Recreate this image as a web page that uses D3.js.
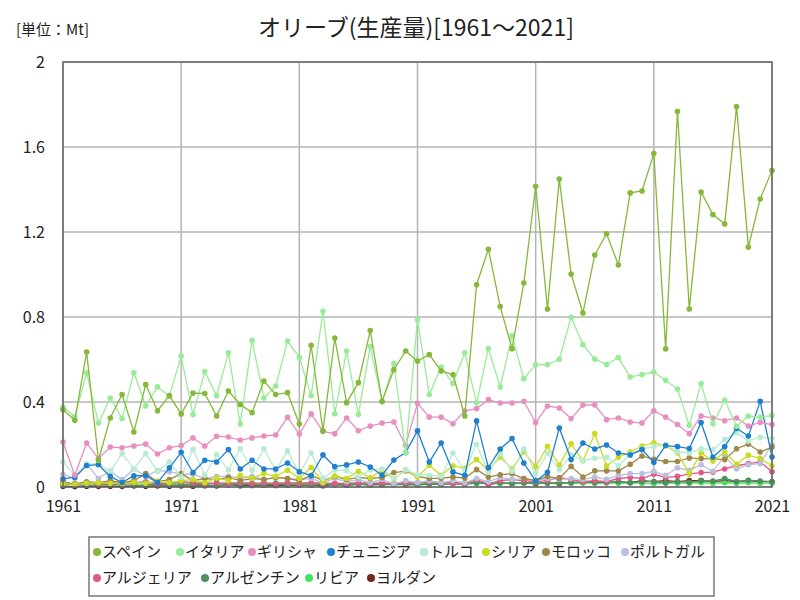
<!DOCTYPE html>
<html>
<head>
<meta charset="utf-8">
<script src="https://cdn.jsdelivr.net/npm/d3@7"></script>
<style>
  body { margin: 0; background: #fff; }
  text { font-family: "Noto Sans CJK JP", "Noto Sans", sans-serif; }
</style>
</head>
<body>
<div id="chart"></div>
<script>
// years 1961..2021
const years = d3.range(1961, 2022);
const tickYears = [1961, 1971, 1981, 1991, 2001, 2011, 2021];
const yTicks = [0, 0.4, 0.8, 1.2, 1.6, 2];

const names = ["スペイン", "イタリア", "ギリシャ", "チュニジア", "トルコ", "シリア",
  "モロッコ", "ポルトガル", "アルジェリア", "アルゼンチン", "リビア", "ヨルダン"];
const colors = ["#86b83a", "#98ec98", "#e88fc0", "#1f80d0", "#b8ecd2", "#cadc22",
  "#a08848", "#b8c0dc", "#e05888", "#4f9060", "#48e060", "#702818"];

const spain = [0.364,0.314,0.635,0.126,0.325,0.435,0.259,0.482,0.359,0.430,
  0.344,0.442,0.440,0.334,0.452,0.388,0.350,0.499,0.435,0.444,
  0.296,0.667,0.264,0.701,0.397,0.491,0.736,0.403,0.552,0.640,
  0.593,0.623,0.546,0.529,0.334,0.952,1.119,0.849,0.651,0.960,
  1.415,0.838,1.449,1.002,0.819,1.092,1.192,1.045,1.384,1.393,
  1.569,0.650,1.767,0.838,1.388,1.282,1.238,1.790,1.129,1.355,1.490];
const italy = [0.376,0.330,0.538,0.301,0.419,0.322,0.538,0.381,0.471,0.427,
  0.616,0.341,0.543,0.430,0.632,0.296,0.690,0.419,0.475,0.687,
  0.610,0.430,0.827,0.345,0.640,0.341,0.662,0.400,0.581,0.162,
  0.788,0.435,0.565,0.487,0.632,0.395,0.651,0.471,0.711,0.510,
  0.576,0.576,0.601,0.799,0.670,0.602,0.576,0.609,0.518,0.529,
  0.541,0.502,0.461,0.290,0.487,0.298,0.408,0.286,0.334,0.329,0.337];
const greece = [0.212,0.055,0.207,0.134,0.188,0.185,0.193,0.202,0.155,0.185,
  0.195,0.231,0.193,0.239,0.235,0.221,0.231,0.240,0.245,0.328,
  0.249,0.344,0.262,0.251,0.325,0.265,0.287,0.301,0.306,0.196,
  0.394,0.329,0.329,0.298,0.358,0.369,0.411,0.395,0.395,0.403,
  0.303,0.381,0.372,0.322,0.386,0.386,0.317,0.325,0.306,0.301,
  0.359,0.329,0.294,0.251,0.334,0.325,0.312,0.325,0.287,0.304,0.294];
const tunisia = [0.038,0.046,0.101,0.105,0.050,0.021,0.053,0.053,0.021,0.090,
  0.163,0.068,0.126,0.118,0.176,0.085,0.126,0.085,0.085,0.113,
  0.072,0.053,0.151,0.096,0.104,0.118,0.094,0.056,0.127,0.162,
  0.264,0.118,0.207,0.071,0.055,0.311,0.091,0.179,0.228,0.113,
  0.028,0.069,0.278,0.129,0.207,0.179,0.198,0.160,0.151,0.176,
  0.116,0.195,0.190,0.181,0.303,0.141,0.190,0.276,0.240,0.403,0.141];
const turkey = [0.118,0.055,0.107,0.110,0.074,0.157,0.086,0.157,0.074,0.118,
  0.047,0.177,0.055,0.152,0.080,0.180,0.079,0.180,0.079,0.170,
  0.063,0.160,0.041,0.080,0.078,0.047,0.080,0.085,0.041,0.080,
  0.058,0.055,0.050,0.160,0.079,0.200,0.070,0.157,0.074,0.180,
  0.063,0.160,0.080,0.150,0.125,0.135,0.140,0.100,0.155,0.180,
  0.190,0.200,0.165,0.160,0.180,0.175,0.223,0.256,0.217,0.234,0.228];
const syria = [0.015,0.012,0.018,0.020,0.018,0.015,0.022,0.018,0.028,0.020,
  0.030,0.035,0.020,0.042,0.030,0.055,0.041,0.063,0.050,0.079,
  0.041,0.092,0.024,0.052,0.040,0.074,0.043,0.077,0.038,0.080,
  0.047,0.102,0.055,0.100,0.088,0.129,0.080,0.141,0.085,0.165,
  0.095,0.192,0.103,0.203,0.124,0.251,0.099,0.140,0.166,0.193,
  0.208,0.194,0.160,0.063,0.160,0.122,0.165,0.107,0.150,0.135,0.100];
const morocco = [0.020,0.015,0.025,0.020,0.030,0.020,0.030,0.063,0.025,0.035,
  0.063,0.030,0.040,0.035,0.045,0.030,0.040,0.035,0.045,0.040,
  0.030,0.055,0.030,0.050,0.035,0.045,0.040,0.045,0.068,0.075,
  0.050,0.040,0.042,0.047,0.042,0.082,0.047,0.058,0.063,0.040,
  0.030,0.050,0.040,0.097,0.047,0.076,0.076,0.076,0.107,0.146,
  0.130,0.120,0.120,0.137,0.134,0.132,0.129,0.180,0.202,0.165,0.188];
const portugal = [0.060,0.040,0.108,0.040,0.075,0.035,0.085,0.050,0.078,0.072,
  0.060,0.060,0.040,0.050,0.050,0.040,0.050,0.035,0.045,0.040,
  0.035,0.040,0.020,0.040,0.025,0.035,0.020,0.035,0.015,0.030,
  0.020,0.030,0.020,0.030,0.020,0.040,0.025,0.045,0.035,0.040,
  0.030,0.040,0.035,0.040,0.035,0.047,0.036,0.055,0.063,0.063,
  0.074,0.055,0.090,0.079,0.105,0.074,0.146,0.085,0.105,0.110,0.200];
const algeria = [0.025,0.010,0.020,0.015,0.020,0.015,0.020,0.025,0.015,0.020,
  0.025,0.020,0.015,0.020,0.015,0.020,0.015,0.020,0.015,0.020,
  0.015,0.020,0.015,0.018,0.015,0.020,0.015,0.020,0.015,0.020,
  0.020,0.025,0.020,0.018,0.015,0.035,0.015,0.030,0.035,0.030,
  0.025,0.030,0.045,0.035,0.025,0.030,0.025,0.040,0.045,0.040,
  0.060,0.045,0.050,0.062,0.068,0.070,0.085,0.100,0.110,0.118,0.072];
const argentina = [0.010,0.012,0.008,0.010,0.012,0.010,0.008,0.010,0.012,0.010,
  0.010,0.012,0.010,0.008,0.010,0.012,0.010,0.010,0.012,0.010,
  0.010,0.008,0.012,0.010,0.010,0.012,0.010,0.010,0.012,0.010,
  0.010,0.012,0.012,0.015,0.012,0.018,0.015,0.020,0.018,0.020,
  0.020,0.018,0.020,0.020,0.025,0.020,0.022,0.025,0.020,0.025,
  0.025,0.020,0.025,0.022,0.030,0.028,0.040,0.025,0.032,0.028,0.025];
const libya = [0.020,0.015,0.020,0.018,0.020,0.015,0.020,0.018,0.020,0.015,
  0.020,0.018,0.020,0.015,0.020,0.018,0.020,0.015,0.020,0.018,
  0.020,0.018,0.020,0.015,0.020,0.018,0.020,0.015,0.018,0.020,
  0.020,0.018,0.020,0.015,0.020,0.018,0.020,0.015,0.020,0.018,
  0.020,0.018,0.020,0.018,0.020,0.018,0.020,0.018,0.020,0.018,
  0.015,0.018,0.018,0.018,0.020,0.018,0.020,0.018,0.020,0.018,0.018];
const jordan = [0.003,0.002,0.004,0.003,0.004,0.003,0.005,0.004,0.005,0.004,
  0.005,0.004,0.006,0.005,0.012,0.006,0.007,0.008,0.007,0.008,
  0.008,0.010,0.006,0.012,0.008,0.014,0.010,0.016,0.012,0.015,
  0.012,0.018,0.015,0.020,0.015,0.025,0.012,0.020,0.015,0.020,
  0.015,0.020,0.015,0.022,0.020,0.025,0.020,0.025,0.020,0.030,
  0.025,0.030,0.025,0.030,0.030,0.025,0.030,0.025,0.030,0.025,0.025];

const values = [spain, italy, greece, tunisia, turkey, syria,
  morocco, portugal, algeria, argentina, libya, jordan];

const series = names.map((name, i) => ({
  name: name,
  color: colors[i],
  points: years.map((yr, j) => ({year: yr, value: values[i][j]}))
}));

const margin = {top: 62, right: 28, bottom: 113, left: 63},
  width = 800 - margin.left - margin.right,
  height = 600 - margin.top - margin.bottom;

const root = d3.select("#chart")
  .append("svg")
  .attr("width", 800)
  .attr("height", 600);

// title and unit
root.append("text")
  .attr("x", 416)
  .attr("y", 36)
  .attr("text-anchor", "middle")
  .style("font-size", "23px")
  .attr("fill", "#222")
  .text("オリーブ(生産量)[1961～2021]");

root.append("text")
  .attr("x", 16)
  .attr("y", 35)
  .style("font-size", "15px")
  .attr("fill", "#222")
  .text("[単位：Mt]");

const svg = root.append("g")
  .attr("transform", `translate(${margin.left}, ${margin.top})`);

const x = d3.scaleLinear()
  .domain([1961, 2021])
  .range([0, width]);

const y = d3.scaleLinear()
  .domain([0, 2])
  .range([height, 0]);

// grid
svg.append("g")
  .selectAll("line")
  .data(tickYears)
  .join("line")
    .attr("x1", d => x(d)).attr("x2", d => x(d))
    .attr("y1", 0).attr("y2", height)
    .attr("stroke", "#b4b4b4")
    .attr("stroke-width", 1.5);

svg.append("g")
  .selectAll("line")
  .data(yTicks)
  .join("line")
    .attr("x1", 0).attr("x2", width)
    .attr("y1", d => y(d)).attr("y2", d => y(d))
    .attr("stroke", "#b4b4b4")
    .attr("stroke-width", 1.5);

// axes
svg.append("g")
  .attr("transform", `translate(0, ${height})`)
  .call(d3.axisBottom(x).tickValues(tickYears).tickFormat(d3.format("d")).tickSize(0).tickPadding(14))
  .call(g => g.select(".domain").remove())
  .selectAll("text")
    .style("font-size", "16px")
    .attr("fill", "#222");

svg.append("g")
  .call(d3.axisLeft(y).tickValues(yTicks).tickFormat(d => String(+d.toFixed(1))).tickSize(0).tickPadding(18))
  .call(g => g.select(".domain").remove())
  .selectAll("text")
    .style("font-size", "16px")
    .attr("fill", "#222");

// lines, Spain drawn last so it sits on top
const line = d3.line()
  .x(d => x(d.year))
  .y(d => y(d.value));

const groups = svg.append("g")
  .selectAll("g")
  .data(series.slice().reverse())
  .join("g");

groups.append("path")
  .attr("d", d => line(d.points))
  .attr("fill", "none")
  .attr("stroke", d => d.color)
  .attr("stroke-width", 1.3);

groups.selectAll("circle")
  .data(d => d.points.map(p => ({...p, color: d.color})))
  .join("circle")
    .attr("cx", d => x(d.year))
    .attr("cy", d => y(d.value))
    .attr("r", 2.8)
    .attr("fill", d => d.color);

// plot frame
svg.append("rect")
  .attr("width", width)
  .attr("height", height)
  .attr("fill", "none")
  .attr("stroke", "#666")
  .attr("stroke-width", 1.5);

// legend (marker positions follow the reference layout)
const legend = root.append("g");
legend.append("rect")
  .attr("x", 89).attr("y", 537)
  .attr("width", 625).attr("height", 59)
  .attr("fill", "#fff")
  .attr("stroke", "#777")
  .attr("stroke-width", 1.5);

const legendX = [97, 180, 252, 331, 424, 486, 546, 625, 97, 205, 309, 371];
names.forEach((name, i) => {
  const cy = i < 8 ? 552 : 578;
  legend.append("circle")
    .attr("cx", legendX[i]).attr("cy", cy)
    .attr("r", 4)
    .attr("fill", colors[i]);
  legend.append("text")
    .attr("x", legendX[i] + 5)
    .attr("y", cy + 5)
    .style("font-size", "15px")
    .attr("fill", "#222")
    .text(name);
});
</script>
</body>
</html>
